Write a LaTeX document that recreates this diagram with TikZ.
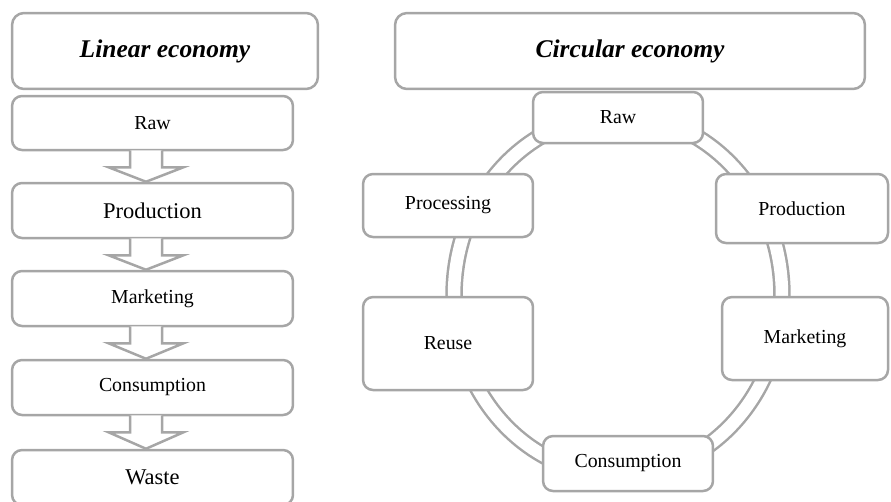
\documentclass[tikz,border=0pt]{standalone}
\usepackage{fontspec}
\setmainfont{Liberation Serif}
\usepackage{xcolor}
\usepackage{tikz}
\usetikzlibrary{calc}
\definecolor{boxGray}{HTML}{A6A6A6}

\begin{document}
\begin{tikzpicture}[x=0.02cm,y=-0.02cm,
  box/.style={rectangle,rounded corners=0.2cm,draw=boxGray,line width=0.05cm,fill=white,
    inner sep=2pt,font=\fontsize{11.3}{13}\selectfont},
  titlebox/.style={box,rounded corners=0.24cm,minimum height=1.52cm,
    font=\fontsize{14.5}{17}\selectfont\bfseries\itshape},
  colbox/.style={box,minimum width=5.62cm,minimum height=1.1cm},
  ringbox/.style={box,minimum width=3.4cm},
  blockarr/.style={draw=boxGray,line width=0.05cm,fill=white,line join=miter},
  ring/.style={draw=boxGray,line width=0.05cm,double=white,double distance=0.25cm}]
\useasboundingbox (0,0) rectangle (891,501);
% --- linear economy ---
\node[titlebox,minimum width=6.12cm] (linT) at (165,51) {Linear economy};
\node[colbox,minimum height=1.08cm] (rawL) at (152.5,123) {Raw};
\node[colbox,font=\fontsize{12.8}{15}\selectfont] (prodL) at (152.5,210.5) {Production};
\node[colbox] (mktL) at (152.5,298.5) {Marketing};
\node[colbox] (consL) at (152.5,387.5) {Consumption};
\node[colbox,font=\fontsize{12.8}{15}\selectfont] (wasteL) at (152.5,477.5) {Waste};
\foreach \a/\b in {rawL/prodL,prodL/mktL,mktL/consL,consL/wasteL}
  \draw[blockarr] ($(\a.south)+(-22.5,-1)$) -- ($(\a.south)+(-22.5,16)$)
    -- ($(\a.south)+(-44,16)$) -- ($(\b.north)+(-6.5,0)$)
    -- ($(\a.south)+(31,16)$) -- ($(\a.south)+(9.5,16)$) -- ($(\a.south)+(9.5,-1)$);
% --- circular economy ---
\coordinate (ringC) at (618,295);
\draw[ring] (ringC) ellipse [x radius=3.28cm,y radius=3.6cm];
\node[titlebox,minimum width=9.4cm] (circT) at (630,51) {Circular economy};
\node[ringbox,minimum height=1.02cm] (rawR) at (618,117.5) {Raw};
\node[ringbox,minimum height=1.26cm] (procR) at (448,205.5) {Processing};
\node[ringbox,minimum width=3.44cm,minimum height=1.38cm] (prodR) at (802,208.5) {Production};
\node[ringbox,minimum height=1.86cm] (reuseR) at (448,343.5) {Reuse};
\node[ringbox,minimum width=3.32cm,minimum height=1.66cm] (mktR) at (805,338.5) {Marketing};
\node[ringbox,minimum height=1.1cm] (consR) at (628,463.5) {Consumption};
\end{tikzpicture}
\end{document}
